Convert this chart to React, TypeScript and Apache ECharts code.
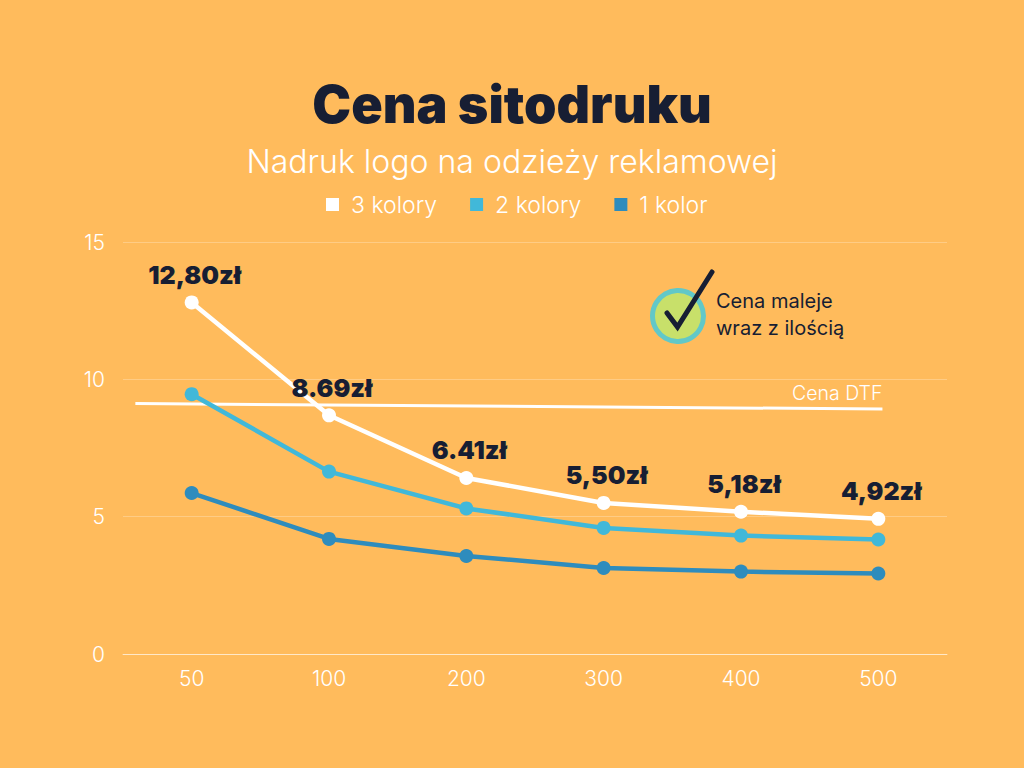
import React, { useEffect, useRef } from 'react';
import * as echarts from 'echarts';

const quantities = ['50', '100', '200', '300', '400', '500'];
const threeColors = [12.8, 8.69, 6.41, 5.5, 5.18, 4.92];
const twoColors = [9.46, 6.64, 5.3, 4.59, 4.31, 4.17];
const oneColor = [5.86, 4.19, 3.57, 3.13, 3.0, 2.93];
const priceLabels = ['12,80zł', '8.69zł', '6.41zł', '5,50zł', '5,18zł', '4,92zł'];
// DTF line runs on a hidden value axis, x in category index units
const dtfLine = [[-0.41, 9.12], [5.03, 8.92]];

const FONT = 'Inter';
const NAVY = '#171e33';
const WHITE = '#ffffff';

const lineSeries = (name: string, data: number[], color: string, extra: any = {}) => ({
  name,
  type: 'line',
  data,
  symbol: 'circle',
  symbolSize: 14,
  lineStyle: { color, width: 4.5 },
  itemStyle: { color },
  ...extra,
});

const App: React.FC = () => {
  const chartRef = useRef<HTMLDivElement>(null);

  useEffect(() => {
    document.body.style.margin = '0';
    const chart = echarts.init(chartRef.current!, undefined, { renderer: 'svg' });

    chart.setOption({
      animation: false,
      backgroundColor: '#ffbb5c',
      textStyle: { fontFamily: FONT },
      title: [
        {
          text: 'Cena sitodruku',
          left: 507,
          top: 73,
          textAlign: 'center',
          textStyle: { fontFamily: FONT, fontSize: 52, fontWeight: 900, color: NAVY },
        },
        {
          text: 'Nadruk logo na odzieży reklamowej',
          left: 507,
          top: 140,
          textAlign: 'center',
          textStyle: { fontFamily: FONT, fontSize: 32, fontWeight: 300, color: WHITE },
        },
      ],
      legend: {
        top: 188,
        left: 321,
        itemWidth: 13,
        itemHeight: 13,
        itemGap: 33,
        icon: 'rect',
        data: ['3 kolory', '2 kolory', '1 kolor'],
        textStyle: { fontFamily: FONT, fontSize: 23, fontWeight: 300, color: WHITE, padding: [0, 0, 0, 7] },
      },
      grid: { left: 123, top: 242, width: 824, height: 412 },
      xAxis: [
        {
          type: 'category',
          data: quantities,
          axisLine: { lineStyle: { color: 'rgba(255,255,255,0.55)', width: 1 } },
          axisTick: { show: false },
          axisLabel: { color: WHITE, fontFamily: FONT, fontSize: 21, fontWeight: 300, margin: 14 },
        },
        { type: 'value', min: -0.5, max: 5.5, show: false },
      ],
      yAxis: {
        type: 'value',
        min: 0,
        max: 15,
        interval: 5,
        axisLine: { show: false },
        axisTick: { show: false },
        axisLabel: { color: WHITE, fontFamily: FONT, fontSize: 21, fontWeight: 300, margin: 18 },
        splitLine: { lineStyle: { color: 'rgba(255,255,255,0.25)', width: 1 } },
      },
      series: [
        {
          name: 'Cena DTF',
          type: 'line',
          xAxisIndex: 1,
          data: dtfLine,
          symbol: 'none',
          lineStyle: { color: WHITE, width: 3 },
          endLabel: {
            show: true,
            formatter: 'Cena DTF',
            color: WHITE,
            fontFamily: FONT,
            fontSize: 19.5,
            fontWeight: 300,
            align: 'right',
            offset: [-8, -16],
          },
        },
        lineSeries('1 kolor', oneColor, '#2e8cbd'),
        lineSeries('2 kolory', twoColors, '#41b8d9'),
        lineSeries('3 kolory', threeColors, WHITE, {
          label: {
            show: true,
            position: 'top',
            distance: 8,
            offset: [3, 0],
            formatter: (p: any) => priceLabels[p.dataIndex],
            color: NAVY,
            fontFamily: FONT,
            fontSize: 25,
            fontWeight: 900,
          },
        }),
      ],
      graphic: [
        {
          type: 'circle',
          shape: { cx: 678, cy: 316, r: 25.5 },
          style: { fill: '#c8e06a', stroke: '#62c8c8', lineWidth: 5 },
        },
        {
          type: 'polyline',
          shape: { points: [[667, 313], [677.5, 327], [712, 272]] },
          style: { stroke: NAVY, lineWidth: 5, fill: 'none', lineCap: 'round', lineJoin: 'miter' },
        },
        {
          type: 'text',
          x: 716,
          y: 291,
          style: { text: 'Cena maleje', fontFamily: FONT, fontSize: 20, fontWeight: 400, fill: NAVY },
        },
        {
          type: 'text',
          x: 716,
          y: 318,
          style: { text: 'wraz z ilością', fontFamily: FONT, fontSize: 20, fontWeight: 400, fill: NAVY },
        },
      ],
    });

    return () => {
      chart.dispose();
    };
  }, []);

  return <div ref={chartRef} style={{ width: 1024, height: 768 }} />;
};

export default App;
